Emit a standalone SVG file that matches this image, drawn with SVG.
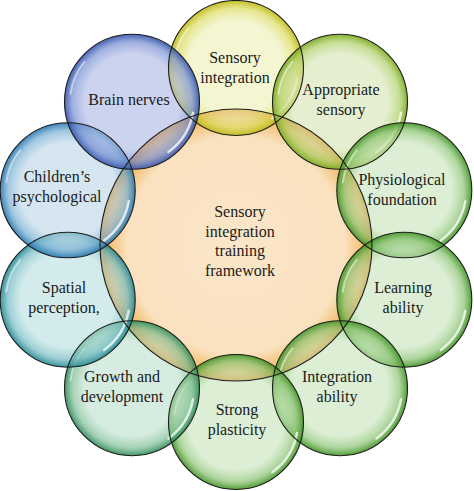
<svg xmlns="http://www.w3.org/2000/svg" width="474" height="491" viewBox="0 0 474 491">
<style>
  .bub { stroke: none; }
  .ol { fill: none; stroke: #1c1c1c; stroke-width: 1.1; }
  .lbl { font-family: "Liberation Serif", "DejaVu Serif", serif; font-size: 16px; fill: #1a1a1a; text-anchor: middle; }
  .hl { fill: none; stroke: #ffffff; stroke-linecap: round; }
</style>
<defs>
  <radialGradient id="gC" cx="50%" cy="50%" r="50%">
    <stop offset="0" stop-color="#fbe6c9"/>
    <stop offset="0.8" stop-color="#fae2c0"/>
    <stop offset="0.93" stop-color="#f3bf74"/>
    <stop offset="1" stop-color="#d9861a"/>
  </radialGradient>
  <radialGradient id="gY" r="50%">
    <stop offset="0" stop-color="#edf0b4" stop-opacity="0.6"/>
    <stop offset="0.7" stop-color="#edf0b4" stop-opacity="0.6"/>
    <stop offset="0.88" stop-color="#dcdc60" stop-opacity="0.7"/>
    <stop offset="1" stop-color="#bcb810" stop-opacity="0.9"/>
  </radialGradient>
  <radialGradient id="gYG" r="50%">
    <stop offset="0" stop-color="#d4e4b1" stop-opacity="0.6"/>
    <stop offset="0.7" stop-color="#d4e4b1" stop-opacity="0.6"/>
    <stop offset="0.88" stop-color="#afd068" stop-opacity="0.7"/>
    <stop offset="1" stop-color="#78a81c" stop-opacity="0.9"/>
  </radialGradient>
  <radialGradient id="gG" r="50%">
    <stop offset="0" stop-color="#c5e4b9" stop-opacity="0.6"/>
    <stop offset="0.7" stop-color="#c5e4b9" stop-opacity="0.6"/>
    <stop offset="0.88" stop-color="#8cc474" stop-opacity="0.7"/>
    <stop offset="1" stop-color="#3f9222" stop-opacity="0.9"/>
  </radialGradient>
  <radialGradient id="gTG" r="50%">
    <stop offset="0" stop-color="#bcdfcb" stop-opacity="0.6"/>
    <stop offset="0.7" stop-color="#bcdfcb" stop-opacity="0.6"/>
    <stop offset="0.88" stop-color="#80c098" stop-opacity="0.7"/>
    <stop offset="1" stop-color="#2e8a58" stop-opacity="0.9"/>
  </radialGradient>
  <radialGradient id="gT" r="50%">
    <stop offset="0" stop-color="#b6dedf" stop-opacity="0.6"/>
    <stop offset="0.7" stop-color="#b6dedf" stop-opacity="0.6"/>
    <stop offset="0.88" stop-color="#74bcc4" stop-opacity="0.7"/>
    <stop offset="1" stop-color="#218690" stop-opacity="0.9"/>
  </radialGradient>
  <radialGradient id="gLB" r="50%">
    <stop offset="0" stop-color="#b9d5e6" stop-opacity="0.6"/>
    <stop offset="0.7" stop-color="#b9d5e6" stop-opacity="0.6"/>
    <stop offset="0.88" stop-color="#78b0d4" stop-opacity="0.7"/>
    <stop offset="1" stop-color="#2676ae" stop-opacity="0.9"/>
  </radialGradient>
  <radialGradient id="gB" r="50%">
    <stop offset="0" stop-color="#aab6e3" stop-opacity="0.6"/>
    <stop offset="0.7" stop-color="#aab6e3" stop-opacity="0.6"/>
    <stop offset="0.88" stop-color="#7890d4" stop-opacity="0.7"/>
    <stop offset="1" stop-color="#3454ac" stop-opacity="0.9"/>
  </radialGradient>
  <g id="hl">
    <path class="hl" d="M 61.0 11.0 A 62 62 0 0 1 36.4 50.2" stroke-width="2.5" stroke-opacity="0.75"/>
    <path class="hl" d="M -61.5 -8.0 A 62 62 0 0 1 -47.5 -39.9" stroke-width="2" stroke-opacity="0.5"/>
  </g>
</defs>
<rect width="474" height="491" fill="#ffffff"/>

<g id="center">
  <circle class="bub" cx="236" cy="245" r="136" fill="url(#gC)"/>
  <text class="lbl" x="240" y="217">Sensory</text>
  <text class="lbl" x="240" y="237">integration</text>
  <text class="lbl" x="240" y="256">training</text>
  <text class="lbl" x="240" y="276">framework</text>
</g>

<g id="connectors"></g>

<g id="sensory-integration">
  <circle class="bub" cx="236" cy="68" r="67.5" fill="url(#gY)"/>
  <use href="#hl" transform="translate(236,68)"/>
  <text class="lbl" x="235" y="63">Sensory</text>
  <text class="lbl" x="235" y="83">integration</text>
</g>
<g id="appropriate-sensory">
  <circle class="bub" cx="340" cy="101.8" r="67.5" fill="url(#gYG)"/>
  <use href="#hl" transform="translate(340,101.8)"/>
  <text class="lbl" x="341" y="95">Appropriate</text>
  <text class="lbl" x="341" y="115">sensory</text>
</g>
<g id="physiological-foundation">
  <circle class="bub" cx="404.3" cy="190.3" r="67.5" fill="url(#gG)"/>
  <use href="#hl" transform="translate(404.3,190.3)"/>
  <text class="lbl" x="402" y="185">Physiological</text>
  <text class="lbl" x="402" y="205">foundation</text>
</g>
<g id="learning-ability">
  <circle class="bub" cx="404.3" cy="299.7" r="67.5" fill="url(#gG)"/>
  <use href="#hl" transform="translate(404.3,299.7)"/>
  <text class="lbl" x="403" y="293">Learning</text>
  <text class="lbl" x="403" y="313">ability</text>
</g>
<g id="integration-ability">
  <circle class="bub" cx="340" cy="388.2" r="67.5" fill="url(#gG)"/>
  <use href="#hl" transform="translate(340,388.2)"/>
  <text class="lbl" x="337" y="382">Integration</text>
  <text class="lbl" x="337" y="402">ability</text>
</g>
<g id="strong-plasticity">
  <circle class="bub" cx="236" cy="422" r="67.5" fill="url(#gG)"/>
  <use href="#hl" transform="translate(236,422)"/>
  <text class="lbl" x="237" y="415">Strong</text>
  <text class="lbl" x="237" y="435">plasticity</text>
</g>
<g id="growth-development">
  <circle class="bub" cx="132" cy="388.2" r="67.5" fill="url(#gTG)"/>
  <use href="#hl" transform="translate(132,388.2)"/>
  <text class="lbl" x="122" y="382">Growth and</text>
  <text class="lbl" x="122" y="402">development</text>
</g>
<g id="spatial-perception">
  <circle class="bub" cx="67.7" cy="299.7" r="67.5" fill="url(#gT)"/>
  <use href="#hl" transform="translate(67.7,299.7)"/>
  <text class="lbl" x="64" y="293">Spatial</text>
  <text class="lbl" x="64" y="313">perception,</text>
</g>
<g id="childrens-psychological">
  <circle class="bub" cx="67.7" cy="190.3" r="67.5" fill="url(#gLB)"/>
  <use href="#hl" transform="translate(67.7,190.3)"/>
  <text class="lbl" x="57" y="182">Children’s</text>
  <text class="lbl" x="57" y="202">psychological</text>
</g>
<g id="brain-nerves">
  <circle class="bub" cx="132" cy="101.8" r="67.5" fill="url(#gB)"/>
  <use href="#hl" transform="translate(132,101.8)"/>
  <text class="lbl" x="129" y="105">Brain nerves</text>
</g>

<g id="outlines">
  <circle class="ol" cx="236" cy="245" r="136"/>
  <circle class="ol" cx="236" cy="68" r="67.5"/>
  <circle class="ol" cx="340" cy="101.8" r="67.5"/>
  <circle class="ol" cx="404.3" cy="190.3" r="67.5"/>
  <circle class="ol" cx="404.3" cy="299.7" r="67.5"/>
  <circle class="ol" cx="340" cy="388.2" r="67.5"/>
  <circle class="ol" cx="236" cy="422" r="67.5"/>
  <circle class="ol" cx="132" cy="388.2" r="67.5"/>
  <circle class="ol" cx="67.7" cy="299.7" r="67.5"/>
  <circle class="ol" cx="67.7" cy="190.3" r="67.5"/>
  <circle class="ol" cx="132" cy="101.8" r="67.5"/>
</g>
</svg>
